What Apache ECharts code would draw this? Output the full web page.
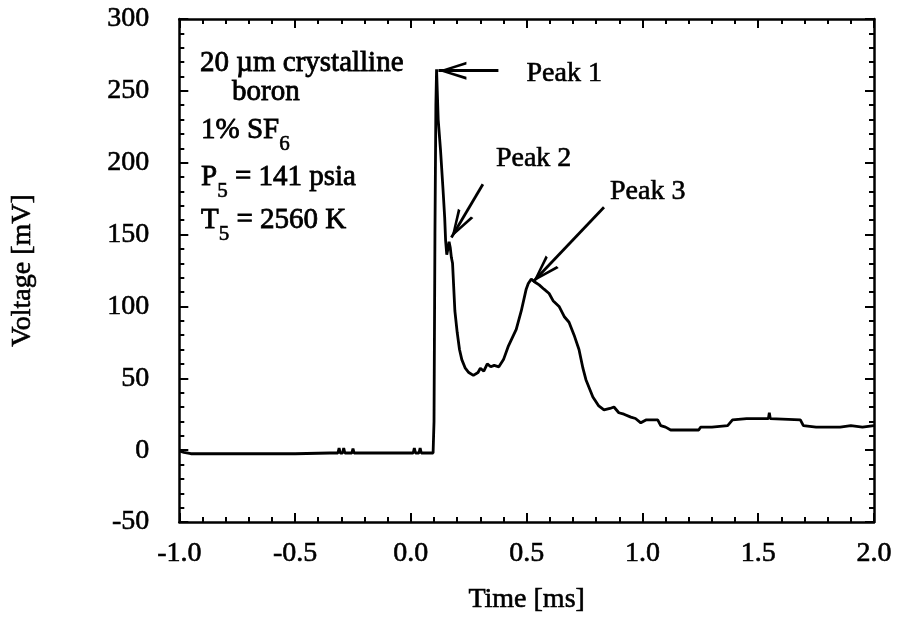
<!DOCTYPE html>
<html>
<head>
<meta charset="utf-8">
<script src="https://cdn.jsdelivr.net/npm/echarts@6/dist/echarts.min.js"></script>
<style>
html,body{margin:0;padding:0;background:#fff;}
#chart{width:899px;height:625px;}
</style>
</head>
<body>
<div id="chart"></div>
<script>
// ---- data ----
var times = [
  -1.0, -0.98, -0.95, -0.7, -0.5, -0.35, -0.315, -0.31, -0.305, -0.295, -0.29, -0.285,
  -0.255, -0.25, -0.245, 0.0, 0.01, 0.015, 0.02, 0.035, 0.04, 0.045, 0.096,
  0.100, 0.104, 0.108, 0.111, 0.114, 0.118, 0.128, 0.139, 0.146, 0.150, 0.155,
  0.160, 0.165, 0.170, 0.175, 0.180, 0.19, 0.20, 0.21, 0.22, 0.235, 0.25, 0.27,
  0.29, 0.30, 0.315, 0.33, 0.345, 0.36, 0.38, 0.40, 0.42, 0.455, 0.477, 0.498,
  0.507, 0.52, 0.535, 0.554, 0.575, 0.597, 0.614, 0.64, 0.662, 0.683, 0.705,
  0.726, 0.743, 0.756, 0.786, 0.81, 0.834, 0.86, 0.877, 0.898, 0.92, 0.95, 0.97,
  0.993, 1.015, 1.066, 1.079, 1.10, 1.122, 1.243, 1.251, 1.30, 1.368, 1.389,
  1.45, 1.544, 1.548, 1.552, 1.682, 1.695, 1.75, 1.854, 1.9, 1.95, 2.0
];
var voltages = [
  -0.5, -1.5, -2.5, -2.5, -2.5, -2.0, -2.0, 1.5, -2, -2, 1.5, -2,
  -2, 1.0, -2, -2, -2, 1.5, -2, -2, 1.5, -2, -2,
  20, 150, 240, 265, 250, 230, 209, 181, 162, 146, 136,
  140, 145, 141, 134, 130, 97, 82, 70, 63, 57, 54, 52,
  54, 57, 55, 60, 58, 59, 58, 63, 72, 84, 97, 112,
  116, 119, 117, 115, 112, 109, 104, 100, 93, 89, 80,
  70, 57, 49, 37, 31, 28, 29, 30, 26, 25, 23, 22,
  19, 21, 21, 17, 16, 14, 14, 16, 16, 17, 21,
  22, 22, 26, 22, 21, 17, 16, 16, 17, 16, 17
];
var xTicks = { min: -1, max: 2, step: 0.5 };
var yTicks = { min: -50, max: 300, step: 50 };

// annotations: label text, label position, arrow tail, arrow tip (data coords)
var peakNames = ['Peak 1', 'Peak 2', 'Peak 3'];
var peakLabelPos = [[0.662, 262], [0.53, 203], [1.023, 180]];
var arrowTail = [[0.378, 264], [0.311, 185], [0.834, 169]];
var arrowTip = [[0.119, 264], [0.175, 148], [0.527, 117]];

var FONT = '"Liberation Serif", "Times New Roman", serif';

var seriesData = times.map(function (t, i) { return [t, voltages[i]]; });

var chart = echarts.init(document.getElementById('chart'), null, { renderer: 'canvas' });

function axisCommon(extra) {
  var base = {
    type: 'value',
    axisLine: { show: true, onZero: false, lineStyle: { color: '#000', width: 2.5 } },
    axisTick: { show: true, inside: true, length: 9, lineStyle: { color: '#000', width: 2 } },
    minorTick: { show: true, splitNumber: 5, length: 5, lineStyle: { color: '#000', width: 2 } },
    splitLine: { show: false },
    minorSplitLine: { show: false }
  };
  for (var k in extra) base[k] = extra[k];
  return base;
}

var labelStyle = { color: '#000', fontFamily: FONT, fontSize: 28, textBorderColor: '#000', textBorderWidth: 0.6 };

var chevron = 'path://M50,0 L100,100 L84,100 L50,28 L16,100 L0,100 Z';

var option = {
  animation: false,
  backgroundColor: '#fff',
  grid: { left: 177, right: 25, top: 19, bottom: 103, containLabel: false },
  xAxis: [
    axisCommon({
      min: xTicks.min, max: xTicks.max, interval: xTicks.step, position: 'bottom',
      axisLabel: Object.assign({ margin: 18, formatter: function (v) { return v.toFixed(1); } }, labelStyle),
      name: 'Time [ms]', nameLocation: 'middle', nameGap: 64,
      nameTextStyle: labelStyle
    }),
    axisCommon({
      min: xTicks.min, max: xTicks.max, interval: xTicks.step, position: 'top',
      axisLabel: { show: false }
    })
  ],
  yAxis: [
    axisCommon({
      min: yTicks.min, max: yTicks.max, interval: yTicks.step, position: 'left',
      axisLabel: Object.assign({ margin: 30 }, labelStyle),
      name: 'Voltage [mV]', nameLocation: 'middle', nameGap: 143,
      nameTextStyle: labelStyle
    }),
    axisCommon({
      min: yTicks.min, max: yTicks.max, interval: yTicks.step, position: 'right',
      axisLabel: { show: false }
    })
  ],
  series: [
    {
      type: 'line',
      xAxisIndex: 0, yAxisIndex: 0,
      data: seriesData,
      showSymbol: false,
      symbol: 'none',
      lineStyle: { color: '#000', width: 2.8 },
      clip: true,
      silent: true,
      markLine: {
        silent: true,
        symbol: ['none', chevron],
        symbolSize: [18, 28],
        symbolOffset: [0, [0, 14]],
        lineStyle: { color: '#000', width: 2.8, type: 'solid' },
        label: { show: false },
        data: arrowTail.map(function (a, i) {
          return [{ coord: a }, { coord: arrowTip[i] }];
        })
      },
      markPoint: {
        silent: true,
        symbol: 'circle',
        symbolSize: 0,
        itemStyle: { color: 'rgba(0,0,0,0)' },
        label: Object.assign({ show: true, position: 'inside', formatter: '{b}' }, labelStyle),
        data: peakNames.map(function (n, i) {
          return { name: n, coord: peakLabelPos[i] };
        })
      }
    }
  ]
};

chart.setOption(option);

// Left text block (annotation), with subscripts done as rich text
var rich = {
  n: { fontFamily: FONT, fontSize: 29, lineHeight: 29, fill: '#000', stroke: '#000', lineWidth: 0.8 },
  s: { fontFamily: FONT, fontSize: 21, lineHeight: 50, verticalAlign: 'bottom', fill: '#000', stroke: '#000', lineWidth: 0.6 }
};
var blockLines = [
  { text: '{n|20 \u00b5m crystalline}', x: 200, y: 63 },
  { text: '{n|boron}', x: 232, y: 92 },
  { text: '{n|1% SF}{s|6}', x: 201, y: 130 },
  { text: '{n|P}{s|5}{n| = 141 psia}', x: 201, y: 177 },
  { text: '{n|T}{s|5}{n| = 2560 K}', x: 201, y: 220 }
];
chart.setOption({
  graphic: blockLines.map(function (l) {
    return {
      type: 'text', x: l.x, y: l.y, silent: true,
      style: { text: l.text, rich: rich, fill: '#000', stroke: '#000', lineWidth: 0.8, align: 'left', verticalAlign: 'middle', font: '29px ' + FONT }
    };
  })
});
</script>
</body>
</html>
